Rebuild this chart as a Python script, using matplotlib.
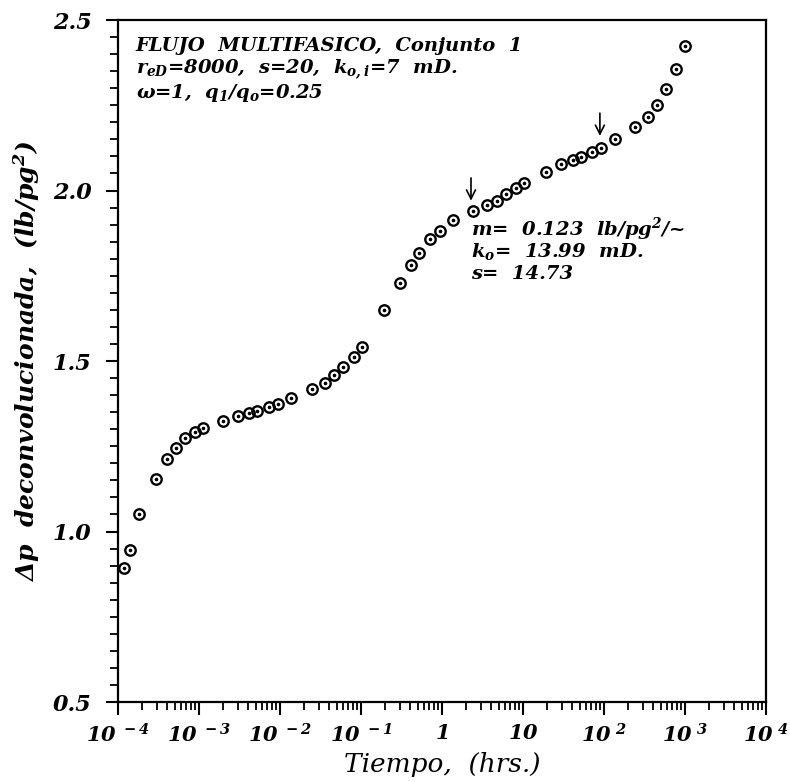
import matplotlib
matplotlib.use("Agg")
import matplotlib.pyplot as plt
from matplotlib.ticker import FixedLocator, LogLocator, NullFormatter, FixedFormatter

plt.rcParams['mathtext.fontset'] = 'custom'
plt.rcParams['mathtext.rm'] = 'DejaVu Serif:bold:italic'
plt.rcParams['mathtext.it'] = 'DejaVu Serif:bold:italic'
plt.rcParams['mathtext.bf'] = 'DejaVu Serif:bold:italic'
plt.rcParams['font.family'] = 'DejaVu Serif'

# data
tiempo = [1.186e-4, 1.393e-4, 1.832e-4, 2.944e-4, 4.064e-4, 5.200e-4, 6.653e-4, 8.851e-4,
          1.112e-3, 1.995e-3, 3.027e-3, 4.111e-3, 5.248e-3, 7.244e-3, 9.376e-3,
          0.01355, 0.02483, 0.03622, 0.04645, 0.05943, 0.08204, 0.1028,
          0.1923, 0.3027, 0.4140, 0.5248, 0.7112, 0.9441,
          1.380, 2.438, 3.556, 4.732, 6.166, 8.204, 10.28,
          19.05, 29.72, 41.02, 52.48, 70.47, 90.99,
          135.5, 243.2, 349.1, 446.7, 587.5, 781.6, 1000.0]
dp = [0.893, 0.946, 1.052, 1.155, 1.213, 1.246, 1.274, 1.292,
      1.303, 1.325, 1.338, 1.347, 1.353, 1.365, 1.373,
      1.392, 1.417, 1.436, 1.458, 1.482, 1.513, 1.541,
      1.650, 1.730, 1.781, 1.816, 1.857, 1.882,
      1.913, 1.939, 1.957, 1.970, 1.990, 2.007, 2.021,
      2.054, 2.077, 2.089, 2.099, 2.113, 2.126,
      2.150, 2.187, 2.216, 2.250, 2.297, 2.357, 2.424]

arrow_t = [2.28, 89.0]
arrow_top = [2.045, 2.235]
arrow_tip = [1.962, 2.152]

x_ticks = [1e-4, 1e-3, 1e-2, 1e-1, 1, 10, 100, 1e3, 1e4]
x_labels = [r'$10^{\ -4}$', r'$10^{\ -3}$', r'$10^{\ -2}$', r'$10^{\ -1}$', r'$1$', r'$10$',
            r'$10^{\ 2}$', r'$10^{\ 3}$', r'$10^{\ 4}$']
y_ticks = [0.5, 1.0, 1.5, 2.0, 2.5]
y_labels = ['0.5', '1.0', '1.5', '2.0', '2.5']

fig = plt.figure(figsize=(7.9, 7.82), dpi=100)
ax = fig.add_axes([0.1494, 0.1023, 0.8202, 0.8721])
ax.set_xscale('log')
ax.set_xlim(1e-4, 1e4)
ax.set_ylim(0.5, 2.5)

ax.plot(tiempo, dp, linestyle='none', marker='o', markersize=7.5, markerfacecolor='none',
        markeredgecolor='black', markeredgewidth=1.7)
ax.plot(tiempo, dp, linestyle='none', marker='o', markersize=1.6, color='black')

for t, a, b in zip(arrow_t, arrow_top, arrow_tip):
    ax.annotate('', xy=(t, b), xytext=(t, a),
                arrowprops=dict(arrowstyle='->', color='black', lw=1.2,
                                mutation_scale=16))

ax.xaxis.set_major_locator(FixedLocator(x_ticks))
ax.xaxis.set_major_formatter(FixedFormatter(x_labels))
ax.xaxis.set_minor_locator(LogLocator(base=10, subs=[2, 3, 4, 5, 6, 7, 8, 9], numticks=20))
ax.xaxis.set_minor_formatter(NullFormatter())
ax.yaxis.set_major_locator(FixedLocator(y_ticks))
ax.yaxis.set_major_formatter(FixedFormatter(y_labels))
ax.yaxis.set_minor_locator(FixedLocator([0.5 + 0.05 * i for i in range(41)]))

ax.tick_params(axis='both', which='major', direction='out', length=9, width=1.5)
ax.tick_params(axis='both', which='minor', direction='out', length=6, width=1.3)
ax.tick_params(axis='x', which='major', pad=6, labelsize=15)
ax.tick_params(axis='y', which='major', pad=10, labelsize=16)
for lab in ax.get_xticklabels() + ax.get_yticklabels():
    lab.set_fontstyle('italic')
    lab.set_fontweight('bold')
for s in ax.spines.values():
    s.set_linewidth(1.6)

ax.set_xlabel('Tiempo,  (hrs.)', fontsize=19, fontstyle='italic', labelpad=4)
ax.set_ylabel(r'$\Delta$p  deconvolucionada,  (lb/pg$^{2}$)', fontsize=18,
              fontstyle='italic', fontweight='bold', labelpad=8)

kw = dict(transform=ax.transAxes, fontsize=14, fontstyle='italic', fontweight='bold',
          va='baseline', ha='left')
ax.text(0.027, 0.954, 'FLUJO  MULTIFASICO,  Conjunto  1', **kw)
ax.text(0.027, 0.922, r'$r_{eD}$=8000,  s=20,  $k_{o,i}$=7  mD.', **kw)
ax.text(0.027, 0.886, r'$\omega$=1,  $q_{1}/q_{o}$=0.25', **kw)

ax.text(0.545, 0.684, r'm=  0.123  lb/pg$^{2}$/~', **kw)
ax.text(0.545, 0.652, r'$k_{o}$=  13.99  mD.', **kw)
ax.text(0.545, 0.620, 's=  14.73', **kw)

fig.savefig('out.png', dpi=100)
